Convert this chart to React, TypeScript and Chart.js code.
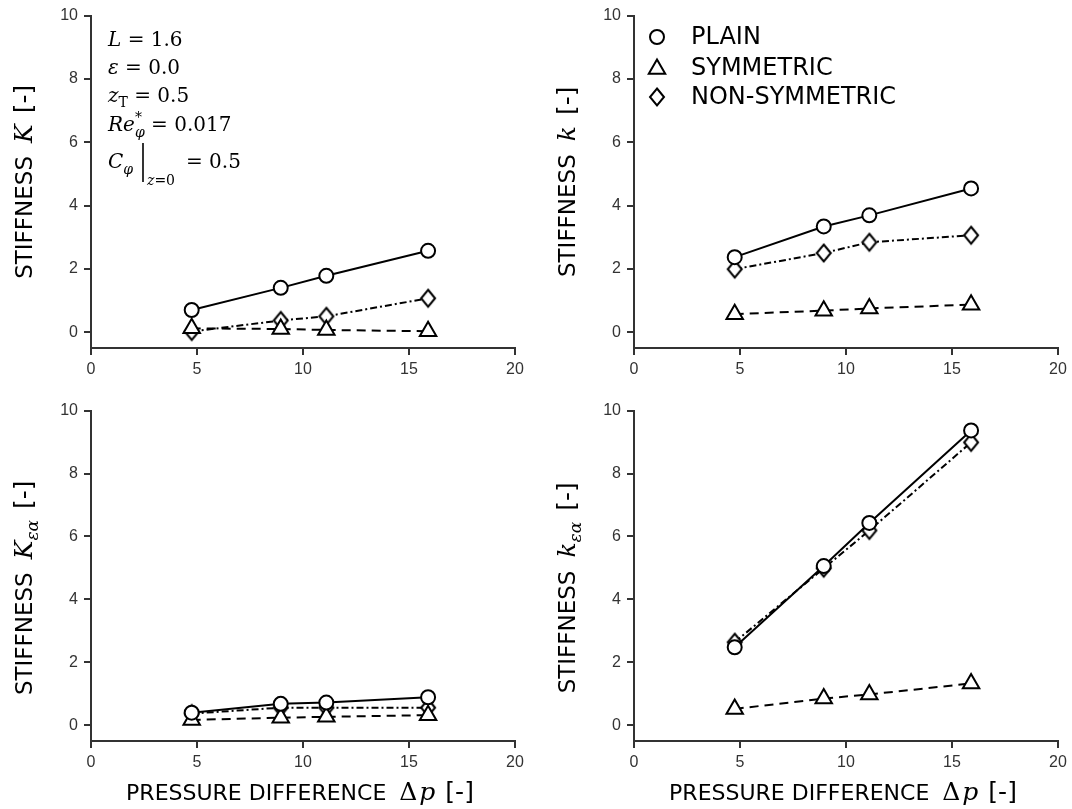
import React, { useEffect, useRef } from 'react';
import { Chart, registerables } from 'chart.js';

Chart.register(...registerables);

// ---------------- DATA ----------------
const pressureDiff = [4.75, 8.95, 11.1, 15.9];
const seriesNames = ['PLAIN', 'SYMMETRIC', 'NON-SYMMETRIC'];
const xTickValues = [0, 5, 10, 15, 20];
const yTickValues = [0, 2, 4, 6, 8, 10];

// Stiffness K
const K_plain = [0.70, 1.40, 1.78, 2.57];
const K_sym = [0.12, 0.10, 0.07, 0.03];
const K_nonsym = [0.02, 0.37, 0.50, 1.07];
// Stiffness k
const k_plain = [2.37, 3.34, 3.69, 4.54];
const k_sym = [0.57, 0.68, 0.75, 0.87];
const k_nonsym = [1.99, 2.50, 2.84, 3.06];
// Stiffness K_ea
const Kea_plain = [0.40, 0.68, 0.72, 0.89];
const Kea_sym = [0.17, 0.24, 0.27, 0.32];
const Kea_nonsym = [0.37, 0.56, 0.56, 0.56];
// Stiffness k_ea
const kea_plain = [2.48, 5.06, 6.43, 9.37];
const kea_sym = [0.52, 0.85, 0.98, 1.33];
const kea_nonsym = [2.64, 4.99, 6.19, 8.99];

// ---------------- STYLE ----------------
const SANS = '"DejaVu Sans"';
const SERIF = '"DejaVu Serif"';
const AXIS_COLOR = '#333';
const TITLE_SIZE = 22;

type Seg = { t: string; f?: string; dy?: number; stack?: boolean; gap?: number };

function segWidth(ctx: CanvasRenderingContext2D, s: Seg) {
  if (s.gap !== undefined) return s.gap;
  ctx.font = s.f!;
  return ctx.measureText(s.t).width;
}

function measureRich(ctx: CanvasRenderingContext2D, segs: Seg[]) {
  let start = 0, end = 0;
  for (const s of segs) {
    const w = segWidth(ctx, s);
    const sx = s.stack ? start : end;
    start = sx;
    end = Math.max(end, sx + w);
  }
  return end;
}

function drawRich(ctx: CanvasRenderingContext2D, x0: number, y0: number, segs: Seg[], align: 'left' | 'center' = 'left') {
  const total = measureRich(ctx, segs);
  const base = align === 'center' ? x0 - total / 2 : x0;
  let start = 0, end = 0;
  ctx.textBaseline = 'alphabetic';
  ctx.textAlign = 'left';
  for (const s of segs) {
    const w = segWidth(ctx, s);
    const sx = s.stack ? start : end;
    if (s.gap === undefined) {
      ctx.font = s.f!;
      ctx.fillText(s.t, base + sx, y0 + (s.dy || 0));
    }
    start = sx;
    end = Math.max(end, sx + w);
  }
}

const sans = (px: number) => `${px}px ${SANS}`;
const serif = (px: number) => `${px}px ${SERIF}`;
const serifI = (px: number) => `italic ${px}px ${SERIF}`;

function yTitle(sym: string, sub?: string): Seg[] {
  const segs: Seg[] = [
    { t: 'STIFFNESS', f: sans(23) },
    { t: '', gap: 13 },
    { t: sym, f: serifI(25) },
  ];
  if (sub) segs.push({ t: sub, f: serifI(17), dy: 6 });
  segs.push({ t: '', gap: 11 });
  segs.push({ t: '[-]', f: sans(25) });
  return segs;
}

const xTitleSegs: Seg[] = [
  { t: 'PRESSURE DIFFERENCE', f: sans(TITLE_SIZE) },
  { t: '', gap: 13 },
  { t: 'Δ', f: serif(25) },
  { t: '', gap: 2 },
  { t: 'p', f: serifI(25) },
  { t: '', gap: 10 },
  { t: '[-]', f: sans(25) },
];

function makeDiamond(): HTMLCanvasElement {
  const c = document.createElement('canvas');
  c.width = 18;
  c.height = 22;
  const g = c.getContext('2d')!;
  g.beginPath();
  g.moveTo(9, 2.5);
  g.lineTo(16, 11);
  g.lineTo(9, 19.5);
  g.lineTo(2, 11);
  g.closePath();
  g.fillStyle = '#fff';
  g.fill();
  g.lineWidth = 2;
  g.strokeStyle = '#000';
  g.stroke();
  return c;
}

function drawCircle(ctx: CanvasRenderingContext2D, x: number, y: number, r: number) {
  ctx.beginPath();
  ctx.arc(x, y, r, 0, Math.PI * 2);
  ctx.fillStyle = '#fff';
  ctx.fill();
  ctx.lineWidth = 2;
  ctx.strokeStyle = '#000';
  ctx.stroke();
}

function drawTriangle(ctx: CanvasRenderingContext2D, x: number, y: number, r: number) {
  ctx.beginPath();
  for (let i = 0; i < 3; i++) {
    const a = (i * 2 * Math.PI) / 3;
    const px = x + Math.sin(a) * r;
    const py = y - Math.cos(a) * r;
    if (i === 0) ctx.moveTo(px, py);
    else ctx.lineTo(px, py);
  }
  ctx.closePath();
  ctx.fillStyle = '#fff';
  ctx.fill();
  ctx.lineWidth = 2;
  ctx.strokeStyle = '#000';
  ctx.stroke();
}

type PanelCfg = {
  left: number;
  top: number;
  width: number;
  height: number;
  padTop: number;
  padRight: number;
  yAxisW: number;
  xAxisH: number;
  titleShift: number;
  series: number[][];
  yTitleSegs: Seg[];
  showXTitle?: boolean;
  annotation?: boolean;
  legend?: boolean;
};

const CIRCLE_R = 7;
const TRI_R = 9.5;

function Panel({ cfg }: { cfg: PanelCfg }) {
  const ref = useRef<HTMLCanvasElement>(null);
  useEffect(() => {
    const diamond = makeDiamond();
    const styles = [
      { pointStyle: 'circle', pointRadius: CIRCLE_R, borderDash: [] as number[] },
      { pointStyle: 'triangle', pointRadius: TRI_R, borderDash: [9, 6] },
      { pointStyle: diamond, pointRadius: 9, borderDash: [7, 3, 2, 3] },
    ];
    const datasets = cfg.series.map((vals, si) => ({
      label: seriesNames[si],
      data: pressureDiff.map((x, i) => ({ x, y: vals[i] })),
      borderColor: '#000',
      borderWidth: 2,
      borderDash: styles[si].borderDash,
      pointStyle: styles[si].pointStyle as any,
      pointRadius: styles[si].pointRadius,
      pointBorderWidth: 2,
      pointBorderColor: '#000',
      pointBackgroundColor: '#fff',
      fill: false,
      tension: 0,
      clip: false as any,
    }));

    const textPlugin = {
      id: 'richText',
      afterDraw(chart: any) {
        const ctx: CanvasRenderingContext2D = chart.ctx;
        const ca = chart.chartArea;
        ctx.save();
        ctx.fillStyle = '#000';
        // y title
        ctx.save();
        ctx.translate(ca.left - 67, (ca.top + ca.bottom) / 2 + cfg.titleShift);
        ctx.rotate(-Math.PI / 2);
        drawRich(ctx, 0, 8, cfg.yTitleSegs, 'center');
        ctx.restore();
        // x title
        if (cfg.showXTitle) {
          drawRich(ctx, (ca.left + ca.right) / 2 - 3, ca.bottom + 59, xTitleSegs, 'center');
        }
        // annotation
        if (cfg.annotation) {
          const ax = 108;
          drawRich(ctx, ax, 46, [
            { t: 'L', f: serifI(20) },
            { t: ' = 1.6', f: serif(20) },
          ]);
          drawRich(ctx, ax, 74, [
            { t: 'ε', f: serifI(20) },
            { t: ' = 0.0', f: serif(20) },
          ]);
          drawRich(ctx, ax, 102, [
            { t: 'z', f: serifI(20) },
            { t: 'T', f: serif(14), dy: 5 },
            { t: ' = 0.5', f: serif(20) },
          ]);
          drawRich(ctx, ax, 131, [
            { t: 'Re', f: serifI(20) },
            { t: 'φ', f: serifI(14), dy: 6 },
            { t: '*', f: serif(14), dy: -9, stack: true },
            { t: ' = 0.017', f: serif(20) },
          ]);
          drawRich(ctx, ax, 168, [
            { t: 'C', f: serifI(20) },
            { t: 'φ', f: serifI(14), dy: 6 },
          ]);
          ctx.beginPath();
          ctx.moveTo(143, 143);
          ctx.lineTo(143, 182);
          ctx.lineWidth = 1.6;
          ctx.strokeStyle = '#000';
          ctx.stroke();
          drawRich(ctx, 147, 185, [
            { t: 'z', f: serifI(14) },
            { t: '=0', f: serif(14) },
          ]);
          drawRich(ctx, 186, 168, [{ t: '= 0.5', f: serif(20) }]);
        }
        // legend
        if (cfg.legend) {
          const mx = 121;
          const tx = 155;
          const rows = [37, 68, 97];
          drawCircle(ctx, mx, rows[0], CIRCLE_R);
          drawTriangle(ctx, mx, rows[1] + 1, TRI_R);
          ctx.drawImage(diamond, mx - diamond.width / 2, rows[2] - diamond.height / 2);
          ctx.fillStyle = '#000';
          ctx.font = sans(24);
          ctx.textBaseline = 'middle';
          ctx.textAlign = 'left';
          seriesNames.forEach((n, i) => ctx.fillText(n, tx, rows[i] + 1));
        }
        ctx.restore();
      },
    };

    const tickFont = { family: '"Liberation Sans"', size: 16 };
    const chart = new Chart(ref.current!, {
      type: 'line',
      data: { datasets: datasets as any },
      options: {
        animation: false,
        responsive: false,
        layout: { padding: { top: cfg.padTop, right: cfg.padRight, left: 0, bottom: 0 } },
        plugins: { legend: { display: false }, tooltip: { enabled: false } },
        scales: {
          x: {
            type: 'linear',
            min: 0,
            max: 20,
            afterBuildTicks: (ax: any) => {
              ax.ticks = xTickValues.map((v) => ({ value: v }));
            },
            afterFit: (s: any) => {
              s.height = cfg.xAxisH;
            },
            ticks: { font: tickFont, color: AXIS_COLOR, padding: 5, maxRotation: 0 },
            grid: { display: true, drawOnChartArea: false, drawTicks: true, tickLength: 7, color: AXIS_COLOR, lineWidth: 2 },
            border: { display: true, color: AXIS_COLOR, width: 2 },
          },
          y: {
            type: 'linear',
            min: -0.5,
            max: 10,
            afterBuildTicks: (ax: any) => {
              ax.ticks = yTickValues.map((v) => ({ value: v }));
            },
            afterFit: (s: any) => {
              s.width = cfg.yAxisW;
            },
            ticks: { font: tickFont, color: AXIS_COLOR, padding: 6 },
            grid: { display: true, drawOnChartArea: false, drawTicks: true, tickLength: 7, color: AXIS_COLOR, lineWidth: 2 },
            border: { display: true, color: AXIS_COLOR, width: 2 },
          },
        },
      } as any,
      plugins: [textPlugin],
    });
    return () => chart.destroy();
  }, [cfg]);
  return (
    <canvas
      ref={ref}
      width={cfg.width}
      height={cfg.height}
      style={{ position: 'absolute', left: cfg.left, top: cfg.top, width: cfg.width, height: cfg.height }}
    />
  );
}

const panels: PanelCfg[] = [
  {
    left: 0, top: 0, width: 536, height: 395, padTop: 12, padRight: 21, yAxisW: 91, xAxisH: 47, titleShift: 0,
    series: [K_plain, K_sym, K_nonsym], yTitleSegs: yTitle('K'), annotation: true,
  },
  {
    left: 536, top: 0, width: 536, height: 395, padTop: 12, padRight: 14, yAxisW: 98, xAxisH: 47, titleShift: 0,
    series: [k_plain, k_sym, k_nonsym], yTitleSegs: yTitle('k'), legend: true,
  },
  {
    left: 0, top: 395, width: 536, height: 414, padTop: 14, padRight: 21, yAxisW: 91, xAxisH: 68, titleShift: 12,
    series: [Kea_plain, Kea_sym, Kea_nonsym], yTitleSegs: yTitle('K', 'εα'), showXTitle: true,
  },
  {
    left: 536, top: 395, width: 536, height: 414, padTop: 14, padRight: 14, yAxisW: 98, xAxisH: 68, titleShift: 12,
    series: [kea_plain, kea_sym, kea_nonsym], yTitleSegs: yTitle('k', 'εα'), showXTitle: true,
  },
];

export default function App() {
  return (
    <div style={{ position: 'absolute', left: 0, top: 0, width: 1072, height: 809, background: '#fff' }}>
      {panels.map((p, i) => (
        <Panel key={i} cfg={p} />
      ))}
    </div>
  );
}
